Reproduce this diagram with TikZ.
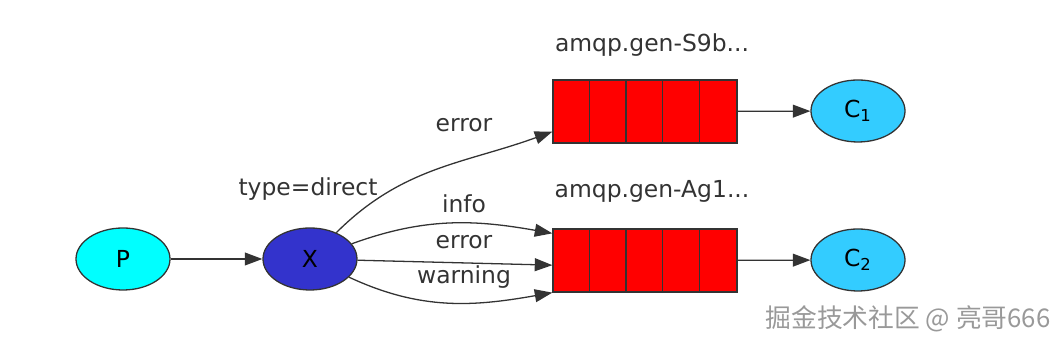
\documentclass[tikz,border=0pt]{standalone}
\usepackage{fontspec}
\setmainfont{DejaVu Sans}
\newfontfamily\cjk{Noto Sans CJK SC}
\usetikzlibrary{arrows.meta, shapes.geometric}
\definecolor{qred}{HTML}{FF0000}
\definecolor{pcyan}{HTML}{00FFFF}
\definecolor{xblue}{HTML}{3333CC}
\definecolor{cblue}{HTML}{33CCFF}
\definecolor{txtgray}{HTML}{333333}

\begin{document}
\begin{tikzpicture}[x=0.015cm, y=0.015cm,
    ell/.style={ellipse, draw=black!80, line width=0.55pt, minimum width=1.41cm,
        minimum height=0.93cm, inner sep=0pt, font=\fontsize{10}{12}\selectfont},
    queue/.style={rectangle, draw=black!80, fill=qred, line width=0.55pt,
        minimum width=2.76cm, minimum height=0.945cm, inner sep=0pt},
    arr/.style={-{Triangle[length=7.5pt,width=5.5pt]}, line width=0.55pt, black!80},
    lbl/.style={text=txtgray, font=\fontsize{10}{12}\selectfont}]
    \useasboundingbox (0,0) rectangle (1060,346);

    % Producer and exchange
    \node[ell, fill=pcyan] (P) at (123,87) {P};
    \node[ell, fill=xblue] (X) at (310,87) {X};
    \node[lbl] (xtype) at (308,157) {type=direct};
    \draw[arr] (P) -- (X);

    % Queues
    \node[queue] (q1) at (645,234.5) {};
    \node[queue] (q2) at (645,85.5) {};
    \foreach \q in {q1, q2} {
        \foreach \i in {1,...,4} {
            \draw[black!80, line width=0.55pt] ([xshift=\i*0.552cm]\q.north west) -- ([xshift=\i*0.552cm]\q.south west);
        }
    }
    \node[lbl] (q1name) at (652,301) {amqp.gen-S9b...};
    \node[lbl] (q2name) at (652,155) {amqp.gen-Ag1...};

    % Consumers
    \node[ell, fill=cblue] (C1) at (858,235) {C\textsubscript{1}};
    \node[ell, fill=cblue] (C2) at (858,86) {C\textsubscript{2}};
    \draw[arr] (q1) -- (C1);
    \draw[arr] (q2) -- (C2);

    % Bindings
    \draw[arr] (X) to[out=45, in=200] ([yshift=0.18cm]q1.south west);
    \draw[arr] (X) to[out=20, in=170] ([yshift=-0.075cm]q2.north west);
    \draw[arr] (X) -- ([yshift=-0.07cm]q2.west);
    \draw[arr] (X) to[out=-25, in=190] (q2.south west);
    \node[lbl] (lerr1) at (464,221) {error};
    \node[lbl] (linfo) at (464,142) {info};
    \node[lbl] (lerr2) at (464,104) {error};
    \node[lbl] (lwarn) at (464,69) {warning};

    % Watermark
    \node[text=black!40, font=\cjk\fontsize{11}{13}\selectfont] (wm) at (908,27) {掘金技术社区 @ 亮哥666};
\end{tikzpicture}
\end{document}
